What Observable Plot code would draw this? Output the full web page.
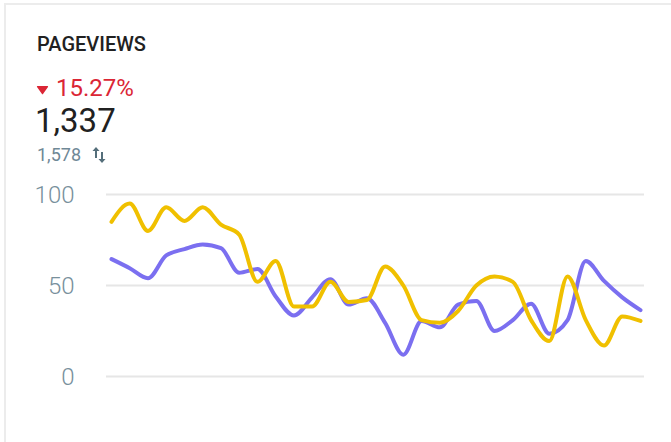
<!DOCTYPE html>
<html>
<head>
<meta charset="utf-8">
<script src="https://cdn.jsdelivr.net/npm/d3@7"></script>
<script src="https://cdn.jsdelivr.net/npm/@observablehq/plot@0.6"></script>
<style>
  html, body { margin: 0; padding: 0; background: #fff; width: 671px; height: 442px; overflow: hidden; font-family: Roboto, "Noto Sans", sans-serif; }
  #card { position: absolute; left: 4px; top: 3px; width: 700px; height: 500px; border: 2px solid #ececec; box-sizing: border-box; }
  .t { position: absolute; line-height: 1; white-space: nowrap; }
  #chart { position: absolute; left: 0; top: 170px; }
</style>
</head>
<body>
<div id="card"></div>
<div class="t" style="left:37px;top:34px;font-size:20px;font-weight:500;color:#212121;">PAGEVIEWS</div>
<svg style="position:absolute;left:36px;top:85px" width="13" height="10" viewBox="0 0 13 10"><path d="M1.5 1 L11.5 1 Q12.5 1 12 2 L7.2 8.8 Q6.5 9.8 5.8 8.8 L1 2 Q0.5 1 1.5 1 Z" fill="#db2635"/></svg>
<div class="t" style="left:56px;top:75.5px;font-size:24px;color:#db2635;">15.27%</div>
<div class="t" style="left:35px;top:104px;font-size:33px;color:#212121;">1,337</div>
<div class="t" style="left:37px;top:145.5px;font-size:18px;color:#6f8896;">1,578</div>
<svg style="position:absolute;left:92px;top:146px" width="14" height="18" viewBox="0 0 14 18"><path d="M4 1 L7.5 5 L5 5 L5 12 L3 12 L3 5 L0.5 5 Z M10 17 L6.5 13 L9 13 L9 6 L11 6 L11 13 L13.5 13 Z" fill="#546e7a"/></svg>
<div id="chart"></div>
<script>
const days = d3.range(30);
const current = [85, 95, 80, 93, 85.5, 93, 83.5, 78, 52, 63.5, 38.5, 38.5, 52, 41, 42, 60.5, 50, 31, 29.5, 36, 50, 55, 52, 31, 19.5, 55, 31, 17, 33, 30.5];
const previous = [64.5, 59.5, 54, 66.5, 70, 72.5, 70.5, 57, 59, 44, 33.5, 43.5, 53.5, 39.5, 43, 29.5, 12, 30.5, 27, 39.5, 41.5, 25, 31, 40, 23.5, 31, 63.5, 52.5, 43.5, 36.5];
const yTicks = [0, 50, 100];

const rows = days.flatMap(i => [
  {day: i, value: previous[i], series: "previous"},
  {day: i, value: current[i], series: "current"}
]);

const chart = Plot.plot({
  width: 671,
  height: 240,
  marginTop: 24,
  marginBottom: 34,
  marginLeft: 106,
  marginRight: 27,
  style: {fontFamily: "Roboto, sans-serif", background: "transparent", overflow: "visible"},
  x: {domain: [0, 29], insetLeft: 5, insetRight: 4, axis: null},
  y: {domain: [0, 100], label: null},
  color: {domain: ["previous", "current"], range: ["#7b6ff0", "#f0c000"]},
  marks: [
    Plot.ruleY(yTicks, {stroke: "#e6e6e6", strokeWidth: 2}),
    Plot.axisY({ticks: yTicks, label: null, tickSize: 0, tickPadding: 32, fontSize: 24, fontWeight: 300, fill: "#78909c", dy: 1, tickFormat: d => String(d)}),
    Plot.line(rows, {x: "day", y: "value", z: "series", stroke: "series", strokeWidth: 4, curve: "monotone-x"})
  ]
});
document.getElementById("chart").appendChild(chart);
</script>
</body>
</html>
